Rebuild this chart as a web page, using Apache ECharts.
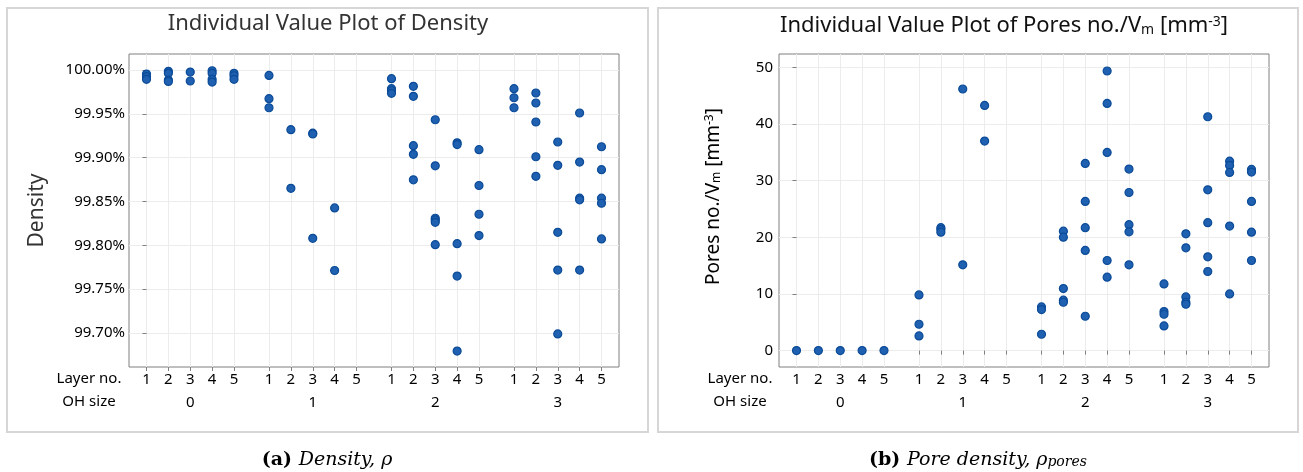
<!DOCTYPE html>
<html><head><meta charset="utf-8">
<script src="https://cdn.jsdelivr.net/npm/echarts@6/dist/echarts.min.js"></script>
<style>html,body{margin:0;padding:0;background:#fff}#c{width:1303px;height:472px}</style>
</head><body><div id="c"></div>
<script>
// ---- categories & tick labels ----
const ohSizes = ['0', '1', '2', '3'];
const layerNos = ['1', '2', '3', '4', '5'];
const densityTicks = [99.70, 99.75, 99.80, 99.85, 99.90, 99.95, 100.00];
const poreTicks = [0, 10, 20, 30, 40, 50];

// ---- Density [%], one list per OH size, inner lists = layer 1..5 ----
const densityOH0 = [
  [99.9954, 99.9924, 99.9894],
  [99.9985, 99.9962, 99.9886, 99.9870],
  [99.9977, 99.9875],
  [99.9992, 99.9962, 99.9894, 99.9863],
  [99.9962, 99.9935, 99.9894]
];
const densityOH1 = [
  [99.9939, 99.9673, 99.9570],
  [99.9320, 99.8650],
  [99.9280, 99.9270, 99.8080],
  [99.8427, 99.7713],
  []
];
const densityOH2 = [
  [99.9901, 99.9787, 99.9764, 99.9734],
  [99.9814, 99.9700, 99.9137, 99.9038, 99.8748],
  [99.9433, 99.8907, 99.8309, 99.8290, 99.8263, 99.8008],
  [99.9170, 99.9150, 99.8019, 99.7649, 99.6794],
  [99.9091, 99.8683, 99.8355, 99.8111]
];
const densityOH3 = [
  [99.9787, 99.9684, 99.9570],
  [99.9738, 99.9624, 99.9407, 99.9011, 99.8787],
  [99.9179, 99.8913, 99.8149, 99.7718, 99.6989],
  [99.9510, 99.8950, 99.8538, 99.8519, 99.7718],
  [99.9125, 99.8863, 99.8538, 99.8480, 99.8073]
];

// ---- Pores no./Vm [mm^-3] ----
const poresOH0 = [[0], [0], [0], [0], [0]];
const poresOH1 = [
  [9.83, 4.65, 2.59],
  [21.70, 21.35, 20.90],
  [46.17, 15.13],
  [43.28, 36.98],
  []
];
const poresOH2 = [
  [7.70, 7.24, 2.88],
  [21.08, 20.02, 10.95, 8.89, 8.53],
  [33.04, 26.32, 21.69, 17.67, 6.06],
  [49.35, 43.63, 34.98, 15.90, 12.95],
  [32.03, 27.90, 22.23, 20.96, 15.13]
];
const poresOH3 = [
  [11.77, 6.89, 6.41, 4.35],
  [20.60, 18.13, 9.47, 8.53, 8.18],
  [41.27, 28.38, 22.58, 16.54, 13.96],
  [33.44, 32.68, 31.45, 21.98, 10.00],
  [31.98, 31.50, 26.32, 20.90, 15.90]
];

const densityData = [densityOH0, densityOH1, densityOH2, densityOH3];
const poresData = [poresOH0, poresOH1, poresOH2, poresOH3];

// ---- layout helpers ----
const GROUP_STEP = 5.6;
const X_MIN = -0.8, X_MAX = 4 + 3 * GROUP_STEP + 0.8;
const pos = (g, l) => g * GROUP_STEP + l;
const layerPos = [], groupPos = [];
ohSizes.forEach((_, g) => {
  layerNos.forEach((_, l) => layerPos.push(pos(g, l)));
  groupPos.push(pos(g, 2));
});
function layerLabel(v) {
  const g = Math.floor((v + 0.8) / GROUP_STEP);
  const l = Math.round(v - g * GROUP_STEP);
  return layerNos[l] || '';
}
function groupLabel(v) {
  return ohSizes[Math.round((v - 2) / GROUP_STEP)] || '';
}
function toPoints(data) {
  const out = [];
  data.forEach((grp, g) => grp.forEach((vals, l) => vals.forEach(v => out.push([pos(g, l), v]))));
  return out;
}

const FONT = 'Noto Sans';
const SERIF = 'DejaVu Serif';
const gridCol = '#ececec';
const tickCol = '#808080';

function xAxes(gi) {
  return [{
    type: 'value', gridIndex: gi, min: X_MIN, max: X_MAX,
    axisLine: { show: false },
    axisTick: { show: true, customValues: layerPos, length: 4, lineStyle: { color: tickCol } },
    axisLabel: { customValues: layerPos, formatter: layerLabel, fontSize: 15, color: '#000', margin: 5, fontFamily: FONT },
    splitLine: { show: true, lineStyle: { color: gridCol, width: 1 } }
  }, {
    type: 'value', gridIndex: gi, min: X_MIN, max: X_MAX, position: 'bottom', offset: 23,
    axisLine: { show: false }, axisTick: { show: false },
    axisLabel: { customValues: groupPos, formatter: groupLabel, fontSize: 15, color: '#000', margin: 5, fontFamily: FONT },
    splitLine: { show: false }
  }];
}

const markStyle = { color: '#1f61b0', borderColor: '#0b4b98', borderWidth: 1.2, opacity: 1 };

const option = {
  backgroundColor: '#fff',
  animation: false,
  textStyle: { fontFamily: FONT },
  grid: [
    { left: 129, top: 54, width: 490, height: 313, show: true, borderColor: '#7f7f7f', borderWidth: 1, backgroundColor: 'transparent' },
    { left: 779, top: 54, width: 490, height: 313, show: true, borderColor: '#7f7f7f', borderWidth: 1, backgroundColor: 'transparent' }
  ],
  xAxis: [...xAxes(0), ...xAxes(1)],
  yAxis: [{
    type: 'value', gridIndex: 0, min: 99.6612, max: 100.0183,
    axisLine: { show: false },
    axisTick: { show: true, customValues: densityTicks, length: 4, lineStyle: { color: tickCol } },
    axisLabel: { customValues: densityTicks, formatter: v => v.toFixed(2) + '%', fontSize: 15, color: '#000', margin: 4, fontFamily: FONT },
    splitLine: { show: true, lineStyle: { color: gridCol } },
    name: 'Density', nameLocation: 'middle', nameGap: 81,
    nameTextStyle: { fontSize: 21, color: '#333', fontFamily: FONT }
  }, {
    type: 'value', gridIndex: 1, min: -2.9, max: 52.35,
    axisLine: { show: false },
    axisTick: { show: true, customValues: poreTicks, length: 4, lineStyle: { color: tickCol } },
    axisLabel: { customValues: poreTicks, formatter: v => String(v), fontSize: 15, color: '#000', margin: 6, fontFamily: FONT },
    splitLine: { show: true, lineStyle: { color: gridCol } },
    name: 'Pores no./V{sub|m} [mm{sup|-3}]', nameLocation: 'middle', nameGap: 56,
    nameTextStyle: { fontSize: 19, color: '#000', fontFamily: FONT, padding: [0, 0, 0, 28],
      rich: { sub: { fontSize: 12, verticalAlign: 'bottom', fontFamily: FONT, color: '#000' },
              sup: { fontSize: 12, verticalAlign: 'top', fontFamily: FONT, color: '#000' } } }
  }],
  series: [{
    type: 'scatter', xAxisIndex: 0, yAxisIndex: 0, symbolSize: 8,
    itemStyle: markStyle, data: toPoints(densityData)
  }, {
    type: 'scatter', xAxisIndex: 2, yAxisIndex: 1, symbolSize: 8,
    itemStyle: markStyle, data: toPoints(poresData)
  }],
  graphic: [
    { type: 'rect', shape: { x: 7, y: 8, width: 641, height: 424 }, style: { fill: 'none', stroke: '#d6d6d6', lineWidth: 2 }, silent: true },
    { type: 'rect', shape: { x: 658, y: 8, width: 640, height: 424 }, style: { fill: 'none', stroke: '#d6d6d6', lineWidth: 2 }, silent: true },
    { type: 'text', x: 328, y: 24, style: { text: 'Individual Value Plot of Density', font: '22px "Noto Sans"', fill: '#333', textAlign: 'center', textVerticalAlign: 'middle' } },
    { type: 'text', x: 1004, y: 26, style: { text: 'Individual Value Plot of Pores no./V{sub|m} [mm{sup|-3}]', font: '22px "Noto Sans"', fill: '#111', textAlign: 'center', textVerticalAlign: 'middle',
        rich: { sub: { fontSize: 14, verticalAlign: 'bottom', fontFamily: FONT, fill: '#111' }, sup: { fontSize: 14, verticalAlign: 'top', fontFamily: FONT, fill: '#111' } } } },
    { type: 'text', x: 89, y: 379, style: { text: 'Layer no.', font: '15px "Noto Sans"', fill: '#000', textAlign: 'center', textVerticalAlign: 'middle' } },
    { type: 'text', x: 89, y: 402, style: { text: 'OH size', font: '15px "Noto Sans"', fill: '#000', textAlign: 'center', textVerticalAlign: 'middle' } },
    { type: 'text', x: 740, y: 379, style: { text: 'Layer no.', font: '15px "Noto Sans"', fill: '#000', textAlign: 'center', textVerticalAlign: 'middle' } },
    { type: 'text', x: 740, y: 402, style: { text: 'OH size', font: '15px "Noto Sans"', fill: '#000', textAlign: 'center', textVerticalAlign: 'middle' } },
    { type: 'text', x: 327, y: 460, style: { text: '{b|(a)}  {i|Density, ρ}', textAlign: 'center', textVerticalAlign: 'middle',
        rich: { b: { fontSize: 19, fontWeight: 'bold', fontFamily: SERIF, fill: '#000' }, i: { fontSize: 19, fontStyle: 'italic', fontFamily: SERIF, fill: '#000' } } } },
    { type: 'text', x: 978, y: 460, style: { text: '{b|(b)}  {i|Pore density, ρ}{s|pores}', textAlign: 'center', textVerticalAlign: 'middle',
        rich: { b: { fontSize: 19, fontWeight: 'bold', fontFamily: SERIF, fill: '#000' }, i: { fontSize: 19, fontStyle: 'italic', fontFamily: SERIF, fill: '#000' },
                s: { fontSize: 14, fontStyle: 'italic', fontFamily: SERIF, fill: '#000', verticalAlign: 'bottom' } } } }
  ]
};

const chart = echarts.init(document.getElementById('c'), null, { renderer: 'canvas' });
chart.setOption(option);
</script>
</body></html>
